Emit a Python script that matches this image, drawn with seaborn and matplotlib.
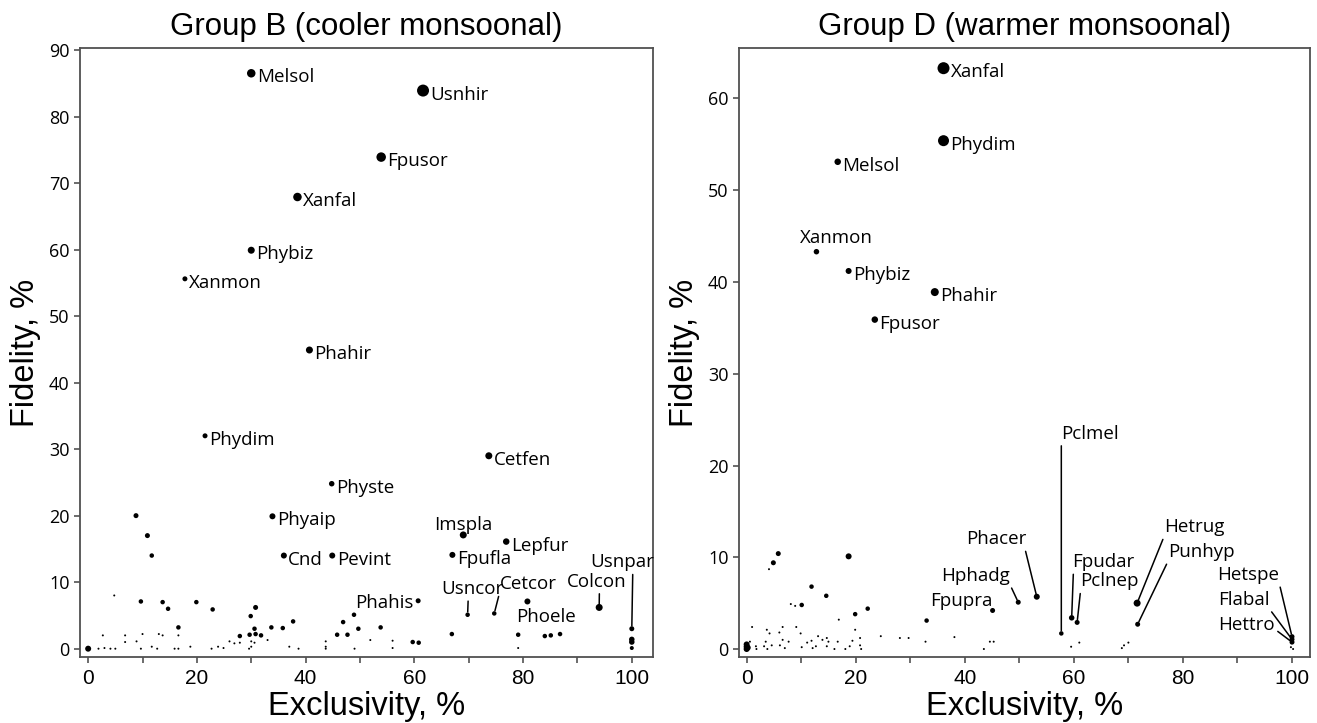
import matplotlib
matplotlib.use("Agg")
import matplotlib.pyplot as plt
from matplotlib.ticker import MultipleLocator
import seaborn as sns
import pandas as pd

# ---------------- data: Group B (cooler monsoonal) ----------------
b_names = ["Melsol", "Usnhir", "Fpusor", "Xanfal", "Phybiz", "Xanmon", "Phahir", "Phydim",
           "Cetfen", "Physte", "Phyaip", "Cnd", "Pevint", "Imspla", "Fpufla", "Lepfur",
           "Phahis", "Usncor", "Cetcor", "Phoele", "Colcon", "Usnpar"]
b_excl = [30.0, 61.6, 53.9, 38.5, 30.0, 17.8, 40.7, 21.5, 73.7, 44.8, 33.9, 36.0, 44.9,
          69.0, 67.0, 76.9, 60.7, 69.8, 74.7, 80.8, 94.0, 100.0]
b_fid = [86.5, 83.9, 73.9, 67.9, 59.9, 55.6, 44.9, 32.0, 29.0, 24.8, 19.9, 14.0, 14.0,
         17.1, 14.1, 16.1, 7.2, 5.1, 5.3, 7.1, 6.2, 3.0]
b_cls = [8.5, 12, 9.5, 8.5, 7, 5, 7, 5, 7, 5.5, 6, 6, 6, 7, 6, 6.5, 5, 4.5, 4.5, 6, 7, 5]

b_other_excl = [8.8, 10.9, 11.7, 9.7, 13.7, 14.7, 16.6, 19.9, 22.9, 29.9, 30.8, 30.6, 29.7,
                30.8, 31.8, 27.9, 33.7, 35.8, 37.7, 45.8, 46.9, 47.7, 48.9, 49.7, 53.8, 0.0,
                59.7, 60.8, 66.9, 79.1, 84.0, 85.1, 86.8, 100.0, 100.0, 100.0]
b_other_fid = [20.0, 17.0, 14.0, 7.1, 7.0, 6.0, 3.2, 7.0, 5.9, 4.9, 6.2, 3.0, 2.1,
               2.2, 2.0, 1.9, 3.2, 3.1, 4.1, 2.1, 4.0, 2.1, 5.1, 3.0, 3.2, 0.0,
               1.0, 0.9, 2.2, 2.1, 1.9, 2.0, 2.2, 1.4, 1.0, 0.1]
b_other_cls = [5, 5, 4.5, 4.5, 4.5, 4.5, 4.5, 4.5, 4.5, 4.5, 5, 4.5, 4.5,
               4.5, 4.5, 4.5, 4.5, 4.5, 4.5, 4.5, 4.5, 4.5, 4.5, 4.5, 4.5, 6,
               4.5, 4.5, 4.5, 4.5, 4.5, 4.5, 4.5, 5.5, 5.5, 4]

b_tiny_excl = [4.8, 2.7, 1.9, 3.0, 4.1, 5.0, 6.8, 6.8, 8.9, 10.0, 9.7, 11.7, 12.7, 13.0, 13.7,
               15.9, 16.6, 16.6, 18.8, 22.7, 23.9, 24.9, 26.0, 26.9, 27.9, 29.6, 30.0, 30.0,
               30.6, 33.0, 37.0, 38.7, 43.7, 43.7, 43.7, 49.0, 51.9, 56.0, 56.0, 79.1]
b_tiny_fid = [8.0, 2.0, 0.0, 0.1, 0.0, 0.0, 2.0, 1.0, 1.1, 2.2, 0.0, 0.3, 0.0, 2.2, 2.0,
              0.0, 0.0, 2.0, 0.3, 0.0, 0.3, 0.1, 1.1, 0.8, 0.9, 0.0, 0.3, 1.1,
              0.9, 1.3, 0.3, 0.0, 0.0, 0.3, 1.1, 0.0, 1.3, 1.2, 0.1, 0.1]

# ---------------- data: Group D (warmer monsoonal) ----------------
d_names = ["Xanfal", "Phydim", "Melsol", "Xanmon", "Phybiz", "Phahir", "Fpusor", "Pclmel",
           "Phacer", "Hphadg", "Fpupra", "Fpudar", "Pclnep", "Hetrug", "Punhyp", "Hetspe",
           "Flabal", "Hettro"]
d_excl = [36.1, 36.1, 16.7, 12.8, 18.7, 34.5, 23.5, 57.7, 53.2, 49.8, 45.1, 59.6, 60.6,
          71.6, 71.7, 100.0, 100.0, 100.0]
d_fid = [63.3, 55.4, 53.1, 43.3, 41.2, 38.9, 35.9, 1.7, 5.7, 5.1, 4.2, 3.4, 2.9, 5.0,
         2.7, 1.35, 1.05, 0.75]
d_cls = [12, 11, 6.5, 5.5, 6, 8, 6.5, 4.5, 6, 5, 5, 5.5, 5, 7, 5, 5, 5, 5]

d_other_excl = [4.9, 5.8, 18.7, 11.9, 14.6, 10.1, 19.9, 22.2, 33.0, 0.0, 0.0, 0.0, 0.2]
d_other_fid = [9.4, 10.4, 10.1, 6.8, 5.8, 4.8, 3.8, 4.4, 3.1, 0.0, 0.25, 0.5, 0.15]
d_other_cls = [5, 5, 6, 4.5, 4.5, 4.5, 4.5, 4.5, 4.5, 6, 6, 6, 6]

d_tiny_excl = [4.1, 8.1, 8.9, 16.9, 19.9, 24.6, 28.1, 29.7, 38.1, 32.8, 43.5, 44.6, 45.3,
               1.0, 0.6, 1.7, 1.8, 3.2, 3.5, 3.8, 3.7, 4.2, 4.6, 6.0, 6.6, 6.1, 6.6, 7.0,
               7.7, 9.1, 9.9, 10.1, 11.1, 11.9, 12.1, 12.7, 13.1, 13.9, 14.7, 14.7, 15.0,
               16.1, 16.7, 18.1, 18.9, 19.4, 20.8, 20.8, 21.0, 59.5, 61.0, 68.8, 69.2, 70.0,
               99.8, 100.2]
d_tiny_fid = [8.7, 4.9, 4.7, 3.2, 2.1, 1.4, 1.2, 1.2, 1.3, 0.8, 0.0, 0.8, 0.8,
              2.4, 0.8, 0.3, 0.0, 0.3, 0.8, 0.0, 2.1, 1.7, 0.4, 1.8, 2.4, 0.4, 1.0, 0.1,
              0.8, 2.4, 1.7, 0.2, 0.7, 0.9, 0.1, 0.3, 1.4, 1.0, 1.2, 0.3, 0.8,
              0.0, 0.8, 0.0, 0.3, 0.9, 1.2, 0.4, 0.0, 0.25, 0.7, 0.1, 0.4, 0.7,
              0.2, 0.0]

b_title = "Group B (cooler monsoonal)"
d_title = "Group D (warmer monsoonal)"
x_label = "Exclusivity, %"
y_label = "Fidelity, %"
TINY = 2.0

# ---------------- label layout (text positions in data units) ----------------
b_special = {
    "Imspla": dict(xy=(69.0, 18.9), ha="center", va="center_baseline"),
    "Phahis": dict(xy=(59.8, 7.2), ha="right", va="center_baseline"),
    "Phoele": dict(xy=(84.2, 5.1), ha="center", va="center_baseline"),
    "Usncor": dict(xy=(70.6, 9.3), ha="center", va="center_baseline", rel=(0.44, 0.0)),
    "Cetcor": dict(xy=(80.9, 10.0), ha="center", va="center_baseline", rel=(0.0, 0.0)),
    "Colcon": dict(xy=(93.6, 10.4), ha="center", va="center_baseline", rel=(0.54, 0.0)),
    "Usnpar": dict(xy=(98.3, 13.3), ha="center", va="center_baseline", rel=(0.66, 0.0)),
}
d_special = {
    "Xanmon": dict(xy=(16.5, 45.0), ha="center", va="center_baseline"),
    "Fpupra": dict(xy=(39.3, 5.4), ha="center", va="center_baseline"),
    "Pclmel": dict(xy=(57.7, 23.7), ha="left", va="center_baseline", rel=(0.0, 0.0)),
    "Phacer": dict(xy=(45.8, 12.2), ha="center", va="center_baseline", rel=(0.97, 0.0)),
    "Hphadg": dict(xy=(42.0, 8.2), ha="center", va="center_baseline", rel=(1.0, 0.0)),
    "Fpudar": dict(xy=(65.4, 9.7), ha="center", va="center_baseline", rel=(0.02, 0.0)),
    "Pclnep": dict(xy=(66.6, 7.6), ha="center", va="center_baseline", rel=(0.0, 0.0)),
    "Hetrug": dict(xy=(82.1, 13.5), ha="center", va="center_baseline", rel=(0.0, 0.0)),
    "Punhyp": dict(xy=(83.4, 10.8), ha="center", va="center_baseline", rel=(0.0, 0.0)),
    "Hetspe": dict(xy=(92.0, 8.3), ha="center", va="center_baseline", rel=(1.0, 0.0)),
    "Flabal": dict(xy=(91.1, 5.6), ha="center", va="center_baseline", rel=(1.0, 0.0)),
    "Hettro": dict(xy=(91.6, 2.8), ha="center", va="center_baseline", rel=(1.0, 0.3)),
}

sns.set_style("ticks")
plt.rcParams["font.family"] = ["Open Sans", "DejaVu Sans"]
plt.rcParams["text.color"] = "black"
plt.rcParams["axes.labelcolor"] = "black"
plt.rcParams["xtick.labelcolor"] = "black"
plt.rcParams["ytick.labelcolor"] = "black"

W, H = 1317, 723
fig = plt.figure(figsize=(W / 100, H / 100), dpi=100)
ax1 = fig.add_axes([80 / W, 1 - 657 / H, (653 - 80) / W, (657 - 48) / H])
ax2 = fig.add_axes([739 / W, 1 - 657 / H, (1310 - 739) / W, (657 - 48) / H])

PX = 72 / 100  # points per pixel
LFS = 13.5


def build(names, ex, fi, cls, oex, ofi, ocls, tex, tfi):
    rows = []
    for n, a, b, c in zip(names, ex, fi, cls):
        rows.append(dict(name=n, x=a, y=b, d=c))
    for a, b, c in zip(oex, ofi, ocls):
        rows.append(dict(name="", x=a, y=b, d=c))
    for a, b in zip(tex, tfi):
        rows.append(dict(name="", x=a, y=b, d=TINY))
    return pd.DataFrame(rows)


def draw(ax, df, special, title, xlim, ylim, yticks):
    sizes = {d: (d * PX) ** 2 for d in df["d"].unique()}
    sns.scatterplot(data=df, x="x", y="y", size="d", sizes=sizes, color="black",
                    linewidth=0, legend=False, ax=ax, zorder=3, clip_on=False)
    ax.set_xlim(*xlim)
    ax.set_ylim(*ylim)
    ax.set_xticks([0, 20, 40, 60, 80, 100])
    ax.xaxis.set_minor_locator(MultipleLocator(10))
    ax.set_yticks(yticks)
    for lab in ax.get_xticklabels():
        lab.set_family(["Liberation Sans Narrow", "Liberation Sans", "DejaVu Sans"])
        lab.set_fontsize(15)
    for lab in ax.get_yticklabels():
        lab.set_fontsize(13)
    ax.tick_params(axis="both", which="both", direction="out", length=4.5, width=1.1,
                   color="#444444", pad=3)
    ax.tick_params(axis="x", which="major", pad=4)
    for s in ax.spines.values():
        s.set_color("#505050")
        s.set_linewidth(1.3)
    ax.set_title(title, fontsize=22.5, family=["Liberation Sans", "DejaVu Sans"], pad=9,
                 color="black")
    ax.set_xlabel(x_label, fontsize=23.5, family=["Liberation Sans Narrow", "Liberation Sans"],
                  labelpad=2)
    ax.set_ylabel(y_label, fontsize=23.5, family=["Liberation Sans Narrow", "Liberation Sans"],
                  labelpad=6)

    lab = df[df["name"] != ""]
    for _, r in lab.iterrows():
        n = r["name"]
        if n in special:
            sp = special[n]
            if "rel" in sp:
                ax.annotate(n, xy=(r["x"], r["y"]), xytext=sp["xy"], textcoords="data",
                            ha=sp["ha"], va=sp["va"], fontsize=LFS, zorder=4,
                            arrowprops=dict(arrowstyle="-", color="black", lw=1.1,
                                            shrinkA=0, shrinkB=2, relpos=sp["rel"]))
            else:
                ax.text(sp["xy"][0], sp["xy"][1], n, ha=sp["ha"], va=sp["va"],
                        fontsize=LFS, zorder=4)
        else:
            ax.annotate(n, xy=(r["x"], r["y"]), xytext=(r["d"] * 0.5 * PX + 1.0, -1.5),
                        textcoords="offset points", ha="left", va="center_baseline",
                        fontsize=LFS, zorder=4)


df_b = build(b_names, b_excl, b_fid, b_cls, b_other_excl, b_other_fid, b_other_cls,
             b_tiny_excl, b_tiny_fid)
df_d = build(d_names, d_excl, d_fid, d_cls, d_other_excl, d_other_fid, d_other_cls,
             d_tiny_excl, d_tiny_fid)

draw(ax1, df_b, b_special, b_title, (-1.5, 103.9), (-1.25, 90.3), list(range(0, 91, 10)))
draw(ax2, df_d, d_special, d_title, (-1.4, 103.3), (-0.87, 65.5), list(range(0, 61, 10)))

fig.savefig("out.png", dpi=100)
